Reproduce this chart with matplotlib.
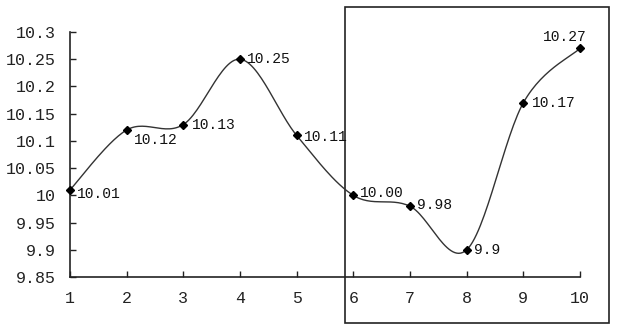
import numpy as np
import matplotlib.pyplot as plt
from matplotlib.patches import Rectangle

# data
days = [1, 2, 3, 4, 5, 6, 7, 8, 9, 10]
prices = [10.01, 10.12, 10.13, 10.25, 10.11, 10.00, 9.98, 9.90, 10.17, 10.27]
labels = ['10.01', '10.12', '10.13', '10.25', '10.11', '10.00', '9.98', '9.9', '10.17', '10.27']
yticks = [9.85, 9.9, 9.95, 10, 10.05, 10.1, 10.15, 10.2, 10.25, 10.3]
yticklabels = ['9.85', '9.9', '9.95', '10', '10.05', '10.1', '10.15', '10.2', '10.25', '10.3']

# label offsets in points (dx, dy)
offsets = [(5, -3), (5, -7), (6, 0), (5, 0), (5, -1), (5, 2), (5, 1), (5, 0), (6, 0), (-27, 8)]


def smooth(x, y, n=30):
    # Excel-style smoothed line: Catmull-Rom through the points
    x = np.asarray(x, float)
    y = np.asarray(y, float)
    px = np.concatenate([[x[0]], x, [x[-1]]])
    py = np.concatenate([[y[0]], y, [y[-1]]])
    xs, ys = [], []
    t = np.linspace(0, 1, n)
    for i in range(1, len(px) - 2):
        for p, out in ((px, xs), (py, ys)):
            p0, p1, p2, p3 = p[i - 1], p[i], p[i + 1], p[i + 2]
            out.extend(0.5 * (2 * p1 + (-p0 + p2) * t
                              + (2 * p0 - 5 * p1 + 4 * p2 - p3) * t ** 2
                              + (-p0 + 3 * p1 - 3 * p2 + p3) * t ** 3))
    return xs, ys


plt.rcParams['font.family'] = ['Liberation Mono', 'DejaVu Sans Mono']

fig = plt.figure(figsize=(6.22, 3.33), dpi=100)
ax = fig.add_axes([0.1125, 0.168, 0.82, 0.736])

sx, sy = smooth(days, prices)
ax.plot(sx, sy, color='#333333', lw=1.0, clip_on=False)
ax.plot(days, prices, linestyle='none', marker='D', markersize=4.5,
        color='black', clip_on=False, zorder=3)

for x, y, lab, (dx, dy) in zip(days, prices, labels, offsets):
    ax.annotate(lab, (x, y), xytext=(dx, dy), textcoords='offset points',
                ha='left', va='center', fontsize=10.5, color='#111111')

ax.set_xlim(1, 10)
ax.set_ylim(9.85, 10.3)
ax.set_xticks(days)
ax.set_yticks(yticks)
ax.set_yticklabels(yticklabels)
ax.tick_params(direction='in', length=4, width=1, labelsize=12, colors='#222222')
ax.tick_params(axis='x', pad=10)
ax.tick_params(axis='y', pad=10)
for s in ['top', 'right']:
    ax.spines[s].set_visible(False)
for s in ['left', 'bottom']:
    ax.spines[s].set_linewidth(1.2)
    ax.spines[s].set_color('#222222')

# highlight box around the last part of the series
ax.add_patch(Rectangle((5.85, 9.765), 4.67, 0.581, fill=False, lw=1.2,
                       edgecolor='#222222', clip_on=False))

fig.savefig('out.png', dpi=100)
